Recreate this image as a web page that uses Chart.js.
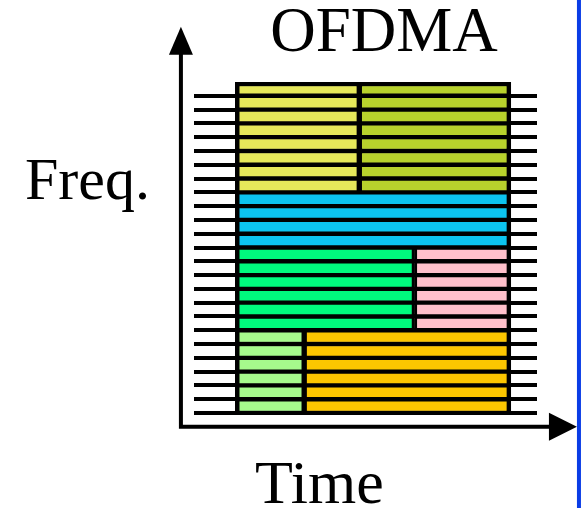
<!DOCTYPE html>
<html>
<head>
<meta charset="utf-8">
<title>OFDMA</title>
<script src="https://cdn.jsdelivr.net/npm/chart.js@4.4.0/dist/chart.umd.min.js"></script>
<style>
    html, body { margin: 0; padding: 0; background: #fff; }
    #wrap { position: relative; width: 583px; height: 508px; }
</style>
</head>
<body>
<div id="wrap"><canvas id="ofdmaChart"></canvas></div>
<script>
// Subcarriers (top to bottom), 24 rows
const subcarriers = ['f24', 'f23', 'f22', 'f21', 'f20', 'f19', 'f18', 'f17',
    'f16', 'f15', 'f14', 'f13', 'f12', 'f11', 'f10', 'f9',
    'f8', 'f7', 'f6', 'f5', 'f4', 'f3', 'f2', 'f1'];

// Users: which rows (first..last, index into subcarriers) and time slots
const users     = ['User 1', 'User 2', 'User 3', 'User 4', 'User 5', 'User 6', 'User 7'];
const rowFirst  = [0, 0, 8, 12, 12, 18, 18];
const rowLast   = [7, 7, 11, 17, 17, 23, 23];
const timeStart = [0, 9, 0, 0, 13, 0, 5];
const timeEnd   = [9, 20, 20, 13, 20, 5, 20];
const userColors = ['#E6E85A', '#B8D22C', '#0CC4F0', '#00FA7D', '#FFC0CB', '#A6FA8C', '#FCC600'];

// Time axis range (block spans 0..20)
const timeMin = -3;
const timeMax = 21.9;

function buildDatasets() {
    return users.map((name, u) => ({
        label: name,
        data: subcarriers.map((s, r) =>
            (r >= rowFirst[u] && r <= rowLast[u]) ? [timeStart[u], timeEnd[u]] : null),
        backgroundColor: userColors[u],
        borderColor: '#000',
        borderSkipped: false,
        borderWidth: ctx => {
            const v = ctx.raw;
            return {
                top: ctx.dataIndex === 0 ? 4.5 : 2.5,
                bottom: 2.5,
                left: v && v[0] === 0 ? 4.5 : 3,
                right: v && v[1] === 20 ? 4.5 : 3
            };
        },
        grouped: false,
        barPercentage: 1,
        categoryPercentage: 1
    }));
}

// Arrows, labels and the blue divider
const decorations = {
    id: 'decorations',
    afterDraw(chart) {
        const ctx = chart.ctx;
        const x = chart.scales.x;
        const y = chart.scales.y;
        const axisX = x.getPixelForValue(-3.95);
        const axisY = y.getPixelForValue(24.5);
        const topY = y.getPixelForValue(-4.5);
        const tipX = x.getPixelForValue(24.8);

        ctx.save();
        ctx.strokeStyle = '#000';
        ctx.fillStyle = '#000';
        ctx.lineWidth = 4;

        // axes
        ctx.beginPath();
        ctx.moveTo(axisX, topY + 20);
        ctx.lineTo(axisX, axisY);
        ctx.lineTo(tipX - 20, axisY);
        ctx.stroke();

        // arrow heads
        ctx.beginPath();
        ctx.moveTo(axisX, topY);
        ctx.lineTo(axisX - 12, topY + 28);
        ctx.lineTo(axisX + 12, topY + 28);
        ctx.closePath();
        ctx.fill();

        ctx.beginPath();
        ctx.moveTo(tipX, axisY);
        ctx.lineTo(tipX - 28, axisY - 14);
        ctx.lineTo(tipX - 28, axisY + 14);
        ctx.closePath();
        ctx.fill();

        // blue divider on the right
        ctx.fillStyle = '#0A3CE6';
        ctx.fillRect(tipX, 0, 4, chart.height);

        // texts
        ctx.fillStyle = '#000';
        ctx.textBaseline = 'alphabetic';
        ctx.font = '63px "Liberation Serif", "Times New Roman", serif';
        ctx.textAlign = 'center';
        ctx.fillText('OFDMA', x.getPixelForValue(10.8), y.getPixelForValue(-2.75));

        ctx.font = '60px "Liberation Serif", "Times New Roman", serif';
        ctx.textAlign = 'right';
        ctx.fillText('Freq.', x.getPixelForValue(-6.2), y.getPixelForValue(8));

        ctx.font = '62px "Liberation Serif", "Times New Roman", serif';
        ctx.textAlign = 'center';
        ctx.fillText('Time', x.getPixelForValue(6.1), y.getPixelForValue(30));
        ctx.restore();
    }
};

function initChart() {
    const chartCtx = document.getElementById('ofdmaChart').getContext('2d');
    return new Chart(chartCtx, {
        type: 'bar',
        data: {
            labels: subcarriers,
            datasets: buildDatasets()
        },
        options: {
            indexAxis: 'y',
            responsive: true,
            maintainAspectRatio: false,
            animation: false,
            layout: {
                padding: { left: 194, right: 46, top: 82, bottom: 95 }
            },
            scales: {
                x: {
                    type: 'linear',
                    min: timeMin,
                    max: timeMax,
                    display: false
                },
                y: {
                    ticks: { display: false },
                    border: { display: false },
                    grid: {
                        offset: true,
                        drawTicks: false,
                        lineWidth: 4,
                        color: ctx => ctx.index === 0 ? 'rgba(0,0,0,0)' : '#000'
                    }
                }
            },
            plugins: {
                legend: { display: false },
                tooltip: { enabled: false }
            }
        },
        plugins: [decorations]
    });
}

window.addEventListener('load', () => {
    initChart();
});
</script>
</body>
</html>
